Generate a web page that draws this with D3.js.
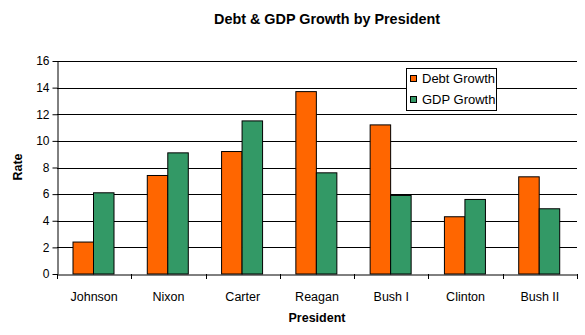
<!DOCTYPE html>
<html>
<head>
<meta charset="utf-8">
<script src="https://cdn.jsdelivr.net/npm/d3@7"></script>
<style>
  body { margin: 0; background: #fff; }
  svg { font-family: "Liberation Sans", Arial, sans-serif; }
</style>
</head>
<body>
<div id="chart"></div>
<script>
var presidents = ["Johnson", "Nixon", "Carter", "Reagan", "Bush I", "Clinton", "Bush II"];
var debtGrowth = [2.4, 7.4, 9.2, 13.7, 11.2, 4.3, 7.3];
var gdpGrowth = [6.1, 9.1, 11.5, 7.6, 5.9, 5.6, 4.9];
var seriesNames = ["Debt Growth", "GDP Growth"];
var yTicks = [0, 2, 4, 6, 8, 10, 12, 14, 16];

var width = 585, height = 335;
var margin = {top: 61, right: 8, bottom: 61, left: 57};
var colors = ["#ff6600", "#339966"];

var svg = d3.select("#chart").append("svg")
    .attr("width", width)
    .attr("height", height);

var x = d3.scaleBand()
    .domain(presidents)
    .range([margin.left, width - margin.right]);

var xInner = d3.scaleBand()
    .domain(seriesNames)
    .range([0, 41])

var y = d3.scaleLinear()
    .domain([0, 16])
    .range([height - margin.bottom, margin.top]);

// gridlines
svg.append("g")
    .selectAll("line")
    .data(yTicks.slice(1))
    .join("line")
    .attr("x1", margin.left)
    .attr("x2", width - margin.right)
    .attr("y1", d => Math.round(y(d)) + 0.5)
    .attr("y2", d => Math.round(y(d)) + 0.5)
    .attr("stroke", "#000")
    .attr("stroke-width", 1);

// bars
var groups = svg.append("g")
    .selectAll("g")
    .data(presidents)
    .join("g")
    .attr("transform", d => `translate(${x(d) + 15.5},0)`);

groups.selectAll("rect")
    .data((d, i) => [debtGrowth[i], gdpGrowth[i]].map((v, j) => ({key: seriesNames[j], value: v, c: colors[j]})))
    .join("rect")
    .attr("x", d => xInner(d.key) + 0.5)
    .attr("y", d => y(d.value))
    .attr("width", xInner.bandwidth())
    .attr("height", d => y(0) - y(d.value))
    .attr("fill", d => d.c)
    .attr("stroke", "#000")
    .attr("stroke-width", 1);

// axes
var yAxis = svg.append("g")
    .attr("transform", `translate(${margin.left + 0.5},0)`)
    .call(d3.axisLeft(y).tickValues(yTicks).tickSize(5).tickSizeOuter(0));
yAxis.select(".domain").attr("stroke", "#000");
yAxis.selectAll("text").attr("font-size", 12).attr("font-family", "Liberation Sans, Arial, sans-serif").attr("fill", "#000");

var xAxis = svg.append("g")
    .attr("transform", `translate(0,${Math.round(y(0)) + 0.5})`)
    .call(d3.axisBottom(x).tickSize(0).tickSizeOuter(0));
xAxis.selectAll("text").attr("font-size", 12.5).attr("dy", "1.85em")
    .attr("font-family", "Liberation Sans, Arial, sans-serif").attr("fill", "#000");
// category boundary ticks
svg.append("g")
    .selectAll("line")
    .data(presidents.map(p => x(p)).concat([x.range()[1]]))
    .join("line")
    .attr("x1", d => Math.round(d) + 0.5)
    .attr("x2", d => Math.round(d) + 0.5)
    .attr("y1", Math.round(y(0)))
    .attr("y2", Math.round(y(0)) + 5)
    .attr("stroke", "#000");

// titles
svg.append("text")
    .attr("x", 327).attr("y", 24)
    .attr("text-anchor", "middle")
    .attr("font-size", 14.4).attr("font-weight", "bold")
    .text("Debt & GDP Growth by President");

svg.append("text")
    .attr("x", 317).attr("y", 322)
    .attr("text-anchor", "middle")
    .attr("font-size", 12.5).attr("font-weight", "bold")
    .text("President");

svg.append("text")
    .attr("transform", "translate(22,167) rotate(-90)")
    .attr("text-anchor", "middle")
    .attr("font-size", 12.5).attr("font-weight", "bold")
    .text("Rate");

// legend
var legend = svg.append("g").attr("transform", "translate(406,68)");
legend.append("rect")
    .attr("x", 0.5).attr("y", 0.5)
    .attr("width", 90).attr("height", 42)
    .attr("fill", "#fff").attr("stroke", "#000");
var items = legend.selectAll(".item")
    .data(seriesNames)
    .join("g")
    .attr("transform", (d, i) => `translate(4,${7 + i * 21})`);
items.append("rect")
    .attr("x", 0.5).attr("y", 0.5)
    .attr("width", 6).attr("height", 6)
    .attr("fill", (d, i) => colors[i])
    .attr("stroke", "#000");
items.append("text")
    .attr("x", 12).attr("y", 8)
    .attr("font-size", 13)
    .text(d => d);
</script>
</body>
</html>
